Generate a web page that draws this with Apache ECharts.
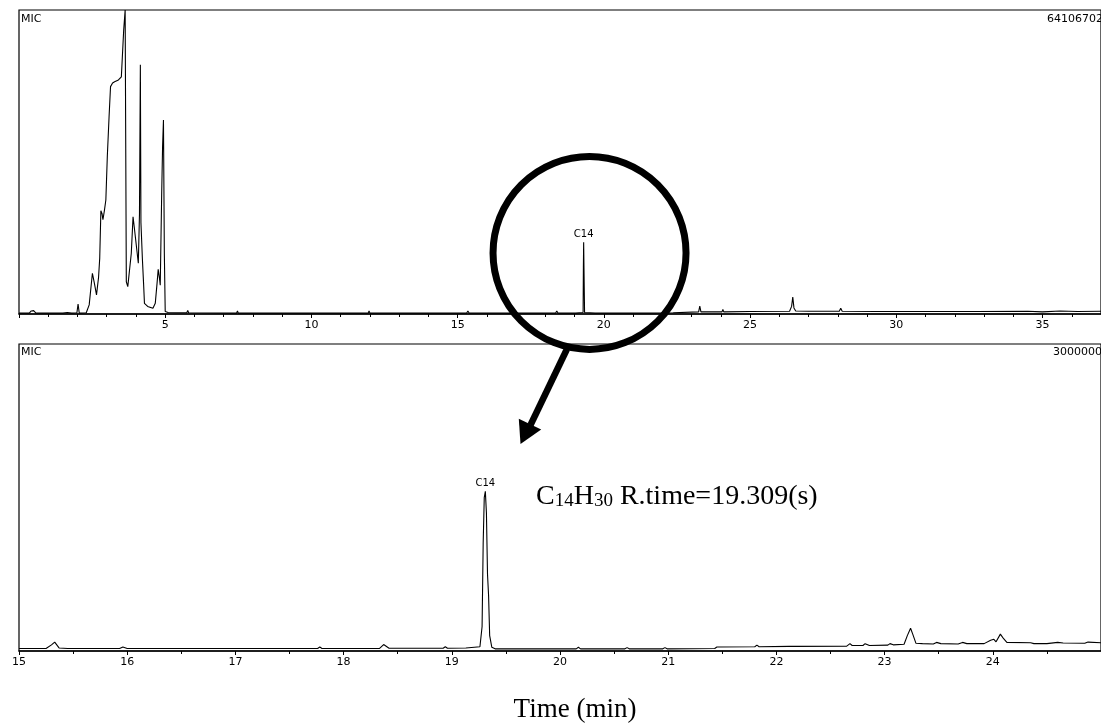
<!DOCTYPE html>
<html>
<head>
<meta charset="utf-8">
<script src="https://cdn.jsdelivr.net/npm/echarts@6/dist/echarts.min.js"></script>
<style>
html,body{margin:0;padding:0;background:#fff;}
#chart{width:1101px;height:724px;}
</style>
</head>
<body>
<div id="chart"></div>
<script>
// ---- Data (relative intensity, % of each panel's full scale) ----
// Top panel: full chromatogram, full scale 64106702
const topTime = [0.0,0.35,0.42,0.5,0.58,1.5,1.65,1.8,1.98,2.02,2.06,2.3,2.4,2.51,2.58,2.65,2.72,2.76,2.80,2.84,2.87,2.92,2.97,3.02,3.08,3.13,3.20,3.27,3.40,3.50,3.58,3.63,3.65,3.67,3.72,3.76,3.84,3.90,3.94,4.01,4.08,4.12,4.15,4.17,4.22,4.26,4.29,4.40,4.58,4.66,4.72,4.76,4.80,4.83,4.88,4.91,4.94,4.97,5.00,5.10,5.40,5.74,5.77,5.80,7.44,7.47,7.50,11.94,11.97,12.00,13.98,14.01,14.04,15.31,15.35,15.39,18.35,18.39,18.43,19.03,19.05,19.07,19.29,19.30,19.309,19.32,19.34,19.70,21.55,21.57,21.59,22.37,22.40,23.24,23.28,23.32,24.04,24.07,24.10,25.0,26.35,26.42,26.46,26.50,26.56,27.0,28.05,28.1,28.15,29.3,29.35,29.4,32.6,32.65,32.7,34.5,35.0,35.6,36.2,37.0];
const topValue = [0.3,0.3,1.0,1.1,0.3,0.3,0.5,0.3,0.4,3.3,0.3,0.4,3.0,13.4,10,6.3,12,18.3,34,33,31,34,37.5,51.8,64.9,74.8,76,76.4,77,78,93.4,100,100,10.6,9,9.5,20,32,28.7,22.7,16.7,33,82,30,18,10,3.5,2.5,1.9,3.5,10,14.7,12,9.5,40,55,63.8,20,0.8,0.5,0.4,0.4,1.2,0.4,0.3,1.0,0.3,0.3,1.0,0.3,0.3,0.7,0.3,0.3,1.0,0.3,0.3,1.0,0.3,0.3,0.8,0.3,0.5,15.6,23.6,15.0,0.5,0.3,0.3,0.7,0.3,0.4,0.7,0.7,2.6,0.7,0.7,1.5,0.7,0.8,0.9,2.5,5.6,2.0,1.0,0.9,0.9,1.9,0.9,0.8,1.2,0.8,0.8,1.2,0.8,0.9,0.7,1.0,0.8,0.9];

// Bottom panel: zoom 15-25 min, full scale 30000000
const bottomTime = [15.00,15.25,15.30,15.33,15.37,15.45,15.93,15.96,16.00,17.76,17.78,17.80,18.33,18.37,18.42,18.92,18.94,18.96,19.13,19.14,19.26,19.28,19.29,19.30,19.31,19.32,19.33,19.34,19.35,19.37,19.40,20.15,20.17,20.19,20.60,20.62,20.64,20.95,20.97,20.99,21.43,21.45,21.80,21.82,21.84,22.12,22.13,22.15,22.65,22.68,22.70,22.80,22.82,22.86,23.03,23.05,23.08,23.18,23.21,23.24,23.26,23.29,23.35,23.45,23.48,23.52,23.68,23.72,23.76,23.92,23.98,24.01,24.03,24.07,24.10,24.13,24.35,24.38,24.50,24.60,24.65,24.85,24.88,25.00];
const bottomValue = [0.8,0.8,2.0,2.9,1.0,0.8,0.8,1.3,0.8,0.8,1.3,0.8,0.8,2.1,0.9,0.9,1.4,0.9,1.0,1.4,1.4,8,35,50,52,45,25,18,5,1.2,0.7,0.7,1.2,0.7,0.7,1.1,0.7,0.7,1.1,0.7,0.8,1.3,1.4,1.9,1.4,1.5,2.0,1.5,1.6,2.4,1.8,1.8,2.4,1.8,1.9,2.4,2.0,2.2,5,7.4,5.5,2.5,2.4,2.3,2.8,2.4,2.3,2.8,2.4,2.4,3.5,3.8,3.0,5.5,4.0,2.8,2.7,2.4,2.4,2.8,2.6,2.5,2.9,2.7];

const topTicks = [5,10,15,20,25,30,35];
const bottomTicks = [15,16,17,18,19,20,21,22,23,24];
const topFullScale = '64106702';
const bottomFullScale = '30000000';
const peakName = 'C14';
const peakTop = {time:19.309, value:23.6};
const peakBottom = {time:19.31, value:52};

const chart = echarts.init(document.getElementById('chart'), null, {renderer:'canvas'});
const axisFont = {fontFamily:'DejaVu Sans', fontSize:11, color:'#000'};

function xAxisCfg(gi, min, max, interval, ticks, minorSplit){
  return {
    type:'value', gridIndex:gi, min:min, max:max, interval:interval,
    axisLine:{show:true, onZero:false, lineStyle:{color:'#000', width:1.5}},
    axisTick:{show:true, length:4, lineStyle:{color:'#000', width:1}},
    minorTick:{show:true, splitNumber:minorSplit, length:3, lineStyle:{color:'#000', width:1}},
    splitLine:{show:false},
    axisLabel:Object.assign({show:true, margin:6, showMinLabel:true, showMaxLabel:false,
      formatter:function(v){ return ticks.indexOf(Math.round(v*1000)/1000) >= 0 ? String(v) : ''; }}, axisFont)
  };
}
function yAxisCfg(gi){
  return {type:'value', gridIndex:gi, min:0, max:100, show:false};
}
function seriesCfg(gi, t, v, peak){
  return {
    type:'line', xAxisIndex:gi, yAxisIndex:gi, showSymbol:false, symbol:'none',
    clip:true, animation:false,
    lineStyle:{color:'#000', width:1.1},
    data:t.map((x,i)=>[x, v[i]]),
    markPoint:{
      symbol:'circle', symbolSize:0, silent:true,
      label:{show:true, position:'top', distance:3, formatter:peakName,
        fontFamily:'DejaVu Sans', fontSize:10, color:'#000'},
      data:[{coord:[peak.time, peak.value]}]
    }
  };
}

const option = {
  backgroundColor:'#fff',
  animation:false,
  grid:[
    {left:19, top:10, right:-4, height:304, show:true, borderColor:'#000', borderWidth:1.2, backgroundColor:'transparent'},
    {left:19, top:344, right:-3, height:307, show:true, borderColor:'#000', borderWidth:1.2, backgroundColor:'transparent'}
  ],
  xAxis:[
    xAxisCfg(0, 0, 37, 5, topTicks, 5),
    xAxisCfg(1, 15, 25, 1, bottomTicks, 2)
  ],
  yAxis:[yAxisCfg(0), yAxisCfg(1)],
  series:[
    seriesCfg(0, topTime, topValue, peakTop),
    seriesCfg(1, bottomTime, bottomValue, peakBottom)
  ]
};
option.xAxis[0].axisLabel.showMinLabel = false;
chart.setOption(option);

// annotations
const c = chart.convertToPixel({gridIndex:0}, [19.51, 20.1]);
chart.setOption({
  graphic:[
    {type:'text', left:21, top:14, style:{text:'MIC', font:'11px "DejaVu Sans"', fill:'#000'}},
    {type:'text', right:-2, top:14, style:{text:topFullScale, font:'11px "DejaVu Sans"', fill:'#000'}},
    {type:'text', left:21, top:347, style:{text:'MIC', font:'11px "DejaVu Sans"', fill:'#000'}},
    {type:'text', right:-8, top:347, style:{text:bottomFullScale, font:'11px "DejaVu Sans"', fill:'#000'}},
    {type:'circle', shape:{cx:c[0], cy:c[1], r:96.5}, style:{fill:'none', stroke:'#000', lineWidth:7}, z:100},
    {type:'line', shape:{x1:567, y1:349, x2:530.5, y2:425}, style:{stroke:'#000', lineWidth:6.5}, z:100},
    {type:'polygon', shape:{points:[[520.5,444],[518.8,418.8],[541.2,429.6]]}, style:{fill:'#000'}, z:100},
    {type:'text', x:536, y:496, z:100, style:{
      text:'{n|C}{s|14}{n|H}{s|30}{n| R.time=19.309(s)}',
      verticalAlign:'middle', align:'left',
      rich:{
        n:{fontFamily:'Liberation Serif', fontSize:28, lineHeight:30, verticalAlign:'bottom', fill:'#000'},
        s:{fontFamily:'Liberation Serif', fontSize:19, lineHeight:17, verticalAlign:'bottom', fill:'#000'}
      }
    }},
    {type:'text', x:575, y:710, z:100, style:{text:'Time (min)', font:'27px "Liberation Serif"', fill:'#000', align:'center', verticalAlign:'middle'}}
  ]
});
</script>
</body>
</html>
